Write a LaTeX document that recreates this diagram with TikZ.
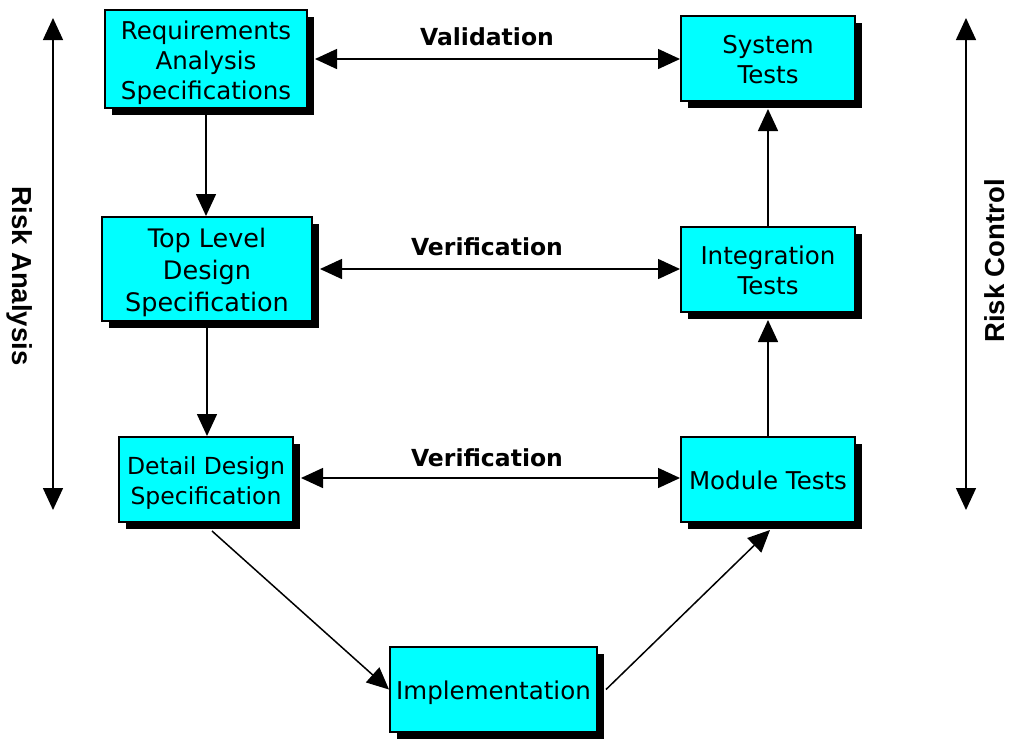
\documentclass[tikz,border=0pt]{standalone}
\usepackage{fontspec}
\setmainfont{DejaVu Sans}
\newfontfamily\labelfont{Liberation Sans}
\usetikzlibrary{arrows.meta,shadows}
\definecolor{boxcyan}{HTML}{00FFFF}
% centred lines, set a little below the middle of the box
\newcommand\phasetext[1]{\raisebox{-4pt}[\height][\depth]{\begin{tabular}{@{}c@{}}#1\end{tabular}}}
\tikzset{
  phase/.style={draw=black, line width=2pt, fill=boxcyan,
    font=\fontsize{24.5}{30}\selectfont, inner sep=0pt,
    drop shadow={shadow xshift=7pt, shadow yshift=-7pt, fill=black, opacity=1}},
  tip/.tip={Triangle[length=22pt,width=20pt]},
  flow/.style={line width=1.5pt, -tip},
  both/.style={line width=1.5pt, tip-tip},
  tag/.style={font=\bfseries\fontsize{23.5}{28}\selectfont},
  risk/.style={font=\labelfont\bfseries\fontsize{27.5}{30}\selectfont}
}
\begin{document}
\begin{tikzpicture}[x=1pt,y=-1pt]
\useasboundingbox (0,0) rectangle (1010,740);

% V-model phases
\node[phase, minimum width=202pt, minimum height=98pt] (req) at (206,59)
  {\phasetext{Requirements\\Analysis\\Specifications}};
\node[phase, minimum width=210pt, minimum height=104pt,
  font=\fontsize{25.5}{32}\selectfont] (top) at (207,269)
  {\phasetext{Top Level\\Design\\Specification}};
\node[phase, minimum width=174pt, minimum height=85pt,
  font=\fontsize{23.5}{30}\selectfont] (det) at (206,479.5)
  {\phasetext{Detail Design\\Specification}};
\node[phase, minimum width=207pt, minimum height=85pt] (imp) at (493.5,689.5)
  {\phasetext{Implementation}};
\node[phase, minimum width=174pt, minimum height=85pt] (mod) at (768,479.5)
  {\phasetext{Module Tests}};
\node[phase, minimum width=174pt, minimum height=85pt] (int) at (768,269.5)
  {\phasetext{Integration\\Tests}};
\node[phase, minimum width=174pt, minimum height=85pt] (sys) at (768,58.5)
  {\phasetext{System\\Tests}};

% descending branch
\draw[flow] (req.south) -- (req.south |- top.north);
\draw[flow] (top.south) -- (top.south |- det.north);
\draw[flow] ([xshift=6pt,yshift=-8pt]det.south) -- (imp.west);

% ascending branch
\draw[flow] ([xshift=8pt]imp.east) -- ([xshift=2pt,yshift=-7pt]mod.south);
\draw[flow] (mod.north) -- ([yshift=-7pt]mod.north |- int.south);
\draw[flow] (int.north) -- ([yshift=-7pt]int.north |- sys.south);

% validation and verification links
\draw[both] ([xshift=7pt]req.east) -- (req.east -| sys.west);
\draw[both] ([xshift=7pt]top.east) -- (top.east -| int.west);
\draw[both] ([xshift=7pt,yshift=1.5pt]det.east) -- ([yshift=1.5pt]det.east -| mod.west);
\node[tag] (val) at (487,37) {Validation};
\node[tag] (ver1) at (487,247) {Verification};
\node[tag] (ver2) at (487,458) {Verification};

% risk axes
\coordinate (ra1) at (53,18);
\coordinate (ra2) at (53,510);
\coordinate (rc1) at (966,18);
\coordinate (rc2) at (966,510);
\draw[both] (ra1) -- (ra2);
\draw[both] (rc1) -- (rc2);
\node[risk, rotate=-90] (ran) at (20,276) {Risk Analysis};
\node[risk, rotate=90] (rco) at (995,261) {Risk Control};
\end{tikzpicture}
\end{document}
